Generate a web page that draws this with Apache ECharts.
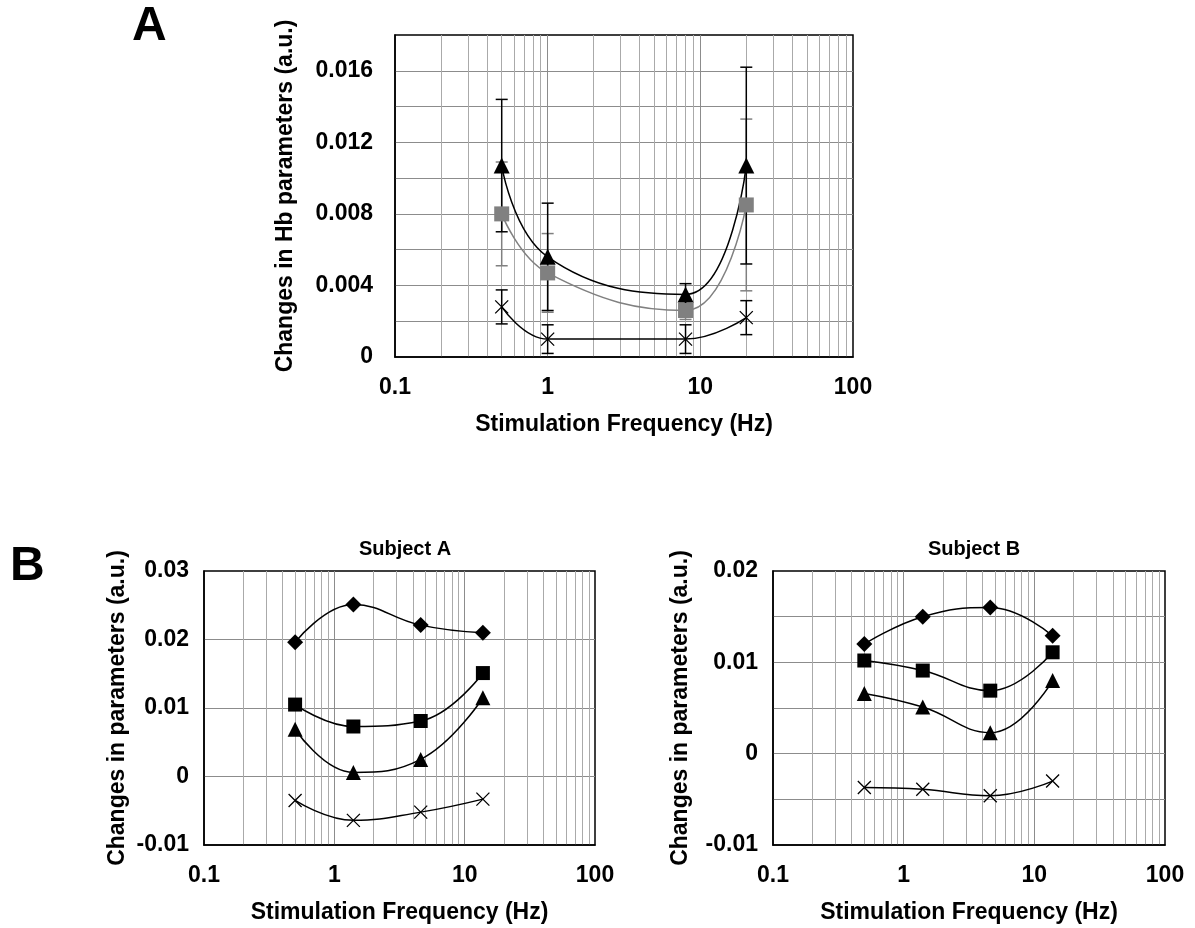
<!DOCTYPE html>
<html>
<head>
<meta charset="utf-8">
<script src="https://cdn.jsdelivr.net/npm/echarts@6/dist/echarts.min.js"></script>
<style>
  html, body { margin: 0; padding: 0; background: #fff; }
  #chart { width: 1195px; height: 928px; }
</style>
</head>
<body>
<div id="chart"></div>
<script>
// panel A: mean +/- sd for the three Hb parameters
const freqA = [0.5, 1, 8, 20]
const triA = [0.0107, 0.0056, 0.0035, 0.0107]
const triErrA = [0.0037, 0.0030, 0.0006, 0.0055]
const sqA = [0.0080, 0.0047, 0.0026, 0.0085]
const sqErrA = [0.0029, 0.0022, 0.0005, 0.0048]
const crossA = [0.0028, 0.0010, 0.0010, 0.0022]
const crossErrA = [0.00095, 0.0008, 0.0008, 0.00095]

// panel B: two subjects
const freqB = [0.5, 1.4, 4.6, 13.8]
const subjA = {
  diamond: [0.0196, 0.0251, 0.0221, 0.0210],
  square: [0.0105, 0.0073, 0.0081, 0.0151],
  triangle: [0.0069, 0.0006, 0.0025, 0.0115],
  cross: [-0.0035, -0.0064, -0.0052, -0.0033]
}
const subjB = {
  diamond: [0.0120, 0.0150, 0.0160, 0.0129],
  square: [0.0102, 0.0091, 0.0069, 0.0111],
  triangle: [0.0066, 0.0051, 0.0023, 0.0080],
  cross: [-0.0037, -0.0039, -0.0046, -0.0030]
}

const freqTicks = ['0.1', '1', '10', '100']

const FONT = 'Liberation Sans, Arial, sans-serif'
const labelStyle = { fontFamily: FONT, fontWeight: 'bold', fontSize: 23, color: '#000' }
const CROSS = 'path://M0,0L10,10M10,0L0,10'

const chart = echarts.init(document.getElementById('chart'))

const xAxisOf = (gridIndex) => ({
  type: 'log',
  logBase: 10,
  gridIndex,
  min: 0.1,
  max: 100,
  name: 'Stimulation Frequency (Hz)',
  nameLocation: 'middle',
  nameGap: 56,
  nameTextStyle: labelStyle,
  axisLine: { show: true, onZero: false, lineStyle: { color: '#000', width: 1.5 } },
  axisTick: { show: false },
  axisLabel: {
    ...labelStyle,
    margin: 19,
    formatter: (v) => freqTicks.find(t => Math.abs(parseFloat(t) - v) < 1e-9 * v + 1e-12) || ''
  },
  splitLine: { show: true, showMinLine: false, showMaxLine: false, lineStyle: { color: '#8c8c8c', width: 1 } },
  minorTick: { show: false, splitNumber: 9 },
  minorSplitLine: { show: true, lineStyle: { color: '#aaaaaa', width: 1 } }
})

const yAxisOf = (gridIndex, min, max, interval, labelStep, decimals, name, nameGap, margin) => ({
  type: 'value',
  gridIndex,
  min,
  max,
  interval,
  name,
  nameLocation: 'middle',
  nameGap,
  nameTextStyle: labelStyle,
  axisLine: { show: true, onZero: false, lineStyle: { color: '#000', width: 1.5 } },
  axisTick: { show: false },
  axisLabel: {
    ...labelStyle,
    margin,
    showMinLabel: true,
    showMaxLabel: true,
    formatter: (v) => {
      const k = Math.round(v / labelStep * 1000) / 1000
      if (Math.abs(k - Math.round(k)) > 1e-6) return ''
      if (Math.abs(v) < 1e-12) return '0'
      return v.toFixed(decimals)
    }
  },
  splitLine: { show: true, showMinLine: false, showMaxLine: false, lineStyle: { color: '#8c8c8c', width: 1 } }
})

const lineSeries = (idx, xs, ys, symbol, size, color) => ({
  type: 'line',
  xAxisIndex: idx,
  yAxisIndex: idx,
  data: xs.map((x, i) => [x, ys[i]]),
  smooth: 0.45,
  symbol,
  symbolSize: size,
  showAllSymbol: true,
  lineStyle: { color, width: 1.5 },
  itemStyle: symbol === CROSS
    ? { color: 'none', borderColor: color, borderWidth: 1.3 }
    : { color, borderWidth: 0 },
  z: 3
})

// vertical error bars with caps
const errorSeries = (idx, xs, ys, errs, color) => ({
  type: 'custom',
  xAxisIndex: idx,
  yAxisIndex: idx,
  encode: { x: 0, y: 1 },
  data: xs.map((x, i) => [x, ys[i], errs[i]]),
  renderItem: (params, api) => {
    const x = api.value(0)
    const y = api.value(1)
    const e = api.value(2)
    const hi = api.coord([x, y + e])
    const lo = api.coord([x, y - e])
    const w = 6
    const style = { stroke: color, lineWidth: 1.5 }
    return {
      type: 'group',
      children: [
        { type: 'line', shape: { x1: hi[0], y1: hi[1], x2: lo[0], y2: lo[1] }, style },
        { type: 'line', shape: { x1: hi[0] - w, y1: hi[1], x2: hi[0] + w, y2: hi[1] }, style },
        { type: 'line', shape: { x1: lo[0] - w, y1: lo[1], x2: lo[0] + w, y2: lo[1] }, style }
      ]
    }
  },
  z: 2
})

const subjectSeries = (idx, d) => [
  lineSeries(idx, freqB, d.diamond, 'diamond', 16, '#000'),
  lineSeries(idx, freqB, d.square, 'rect', 14, '#000'),
  lineSeries(idx, freqB, d.triangle, 'triangle', 15, '#000'),
  lineSeries(idx, freqB, d.cross, CROSS, 13, '#000')
]

const option = {
  backgroundColor: '#fff',
  animation: false,
  title: [
    { text: 'A', left: 127, top: -2, textStyle: { fontFamily: FONT, fontWeight: 'bold', fontSize: 48, color: '#000' } },
    { text: 'B', left: 5, top: 538, textStyle: { fontFamily: FONT, fontWeight: 'bold', fontSize: 48, color: '#000' } },
    { text: 'Subject A', left: 400, top: 534, textAlign: 'center', textStyle: { fontFamily: FONT, fontWeight: 'bold', fontSize: 20, color: '#000' } },
    { text: 'Subject B', left: 969, top: 534, textAlign: 'center', textStyle: { fontFamily: FONT, fontWeight: 'bold', fontSize: 20, color: '#000' } }
  ],
  grid: [
    { left: 395, top: 35, width: 458, height: 322, show: true, borderColor: '#000', borderWidth: 1.5, backgroundColor: '#fff' },
    { left: 204, top: 571, width: 391, height: 274, show: true, borderColor: '#000', borderWidth: 1.5, backgroundColor: '#fff' },
    { left: 773, top: 571, width: 392, height: 274, show: true, borderColor: '#000', borderWidth: 1.5, backgroundColor: '#fff' }
  ],
  xAxis: [xAxisOf(0), xAxisOf(1), xAxisOf(2)],
  yAxis: [
    yAxisOf(0, 0, 0.018, 0.002, 0.004, 3, 'Changes in Hb parameters (a.u.)', 98, 22),
    yAxisOf(1, -0.01, 0.03, 0.01, 0.01, 2, 'Changes in parameters (a.u.)', 75, 15),
    yAxisOf(2, -0.01, 0.02, 0.005, 0.01, 2, 'Changes in parameters (a.u.)', 81, 15)
  ],
  series: [
    errorSeries(0, freqA, sqA, sqErrA, '#808080'),
    errorSeries(0, freqA, triA, triErrA, '#000'),
    errorSeries(0, freqA, crossA, crossErrA, '#000'),
    lineSeries(0, freqA, sqA, 'rect', 15, '#808080'),
    lineSeries(0, freqA, triA, 'triangle', 16, '#000'),
    lineSeries(0, freqA, crossA, CROSS, 13, '#000'),
    ...subjectSeries(1, subjA),
    ...subjectSeries(2, subjB)
  ]
}

chart.setOption(option)
</script>
</body>
</html>
